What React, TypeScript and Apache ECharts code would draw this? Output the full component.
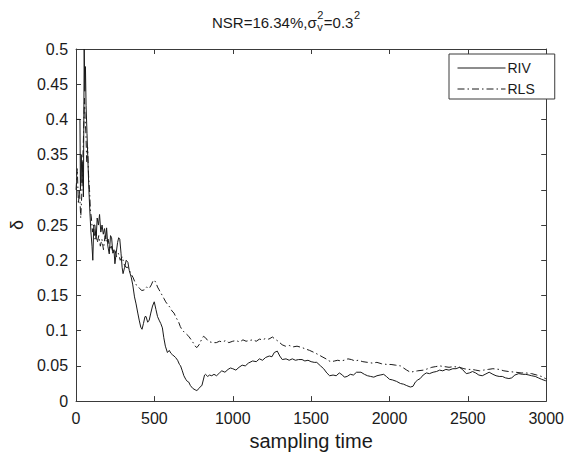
import React, { useEffect, useRef } from "react";
import * as echarts from "echarts";

const seriesNames = ["RIV", "RLS"];
const xLabel = "sampling time";
const yLabel = "δ";
const titleMain = "NSR=16.34%,σ";
const titleSup1 = "2";
const titleSub1 = "v";
const titleMid = "=0.3";
const titleSup2 = "2";

const rivTime = [0, 12, 25, 28, 33, 38, 43, 47, 52, 56, 60, 64, 70, 76, 82, 88, 95, 102, 107, 113, 120, 128, 135, 143, 150, 158, 166, 174, 182, 190, 195, 203, 212, 220, 227, 235, 242, 248, 256, 265, 272, 279, 287, 294, 300, 310, 320, 331, 340, 352, 362, 373, 383, 394, 403, 413, 421, 430, 440, 447, 457, 467, 477, 488, 499, 510, 520, 530, 541, 551, 560, 570, 583, 595, 605, 614, 625, 635, 648, 660, 667, 678, 688, 700, 710, 719, 730, 745, 760, 771, 785, 795, 803, 812, 820, 826, 840, 852, 866, 880, 897, 915, 930, 950, 970, 985, 1000, 1020, 1040, 1060, 1080, 1100, 1127, 1150, 1170, 1190, 1210, 1233, 1250, 1265, 1284, 1300, 1316, 1340, 1360, 1380, 1400, 1420, 1442, 1460, 1480, 1500, 1520, 1536, 1560, 1580, 1600, 1618, 1640, 1660, 1680, 1700, 1712, 1730, 1750, 1770, 1790, 1818, 1840, 1860, 1880, 1900, 1920, 1940, 1963, 1980, 2000, 2020, 2045, 2070, 2090, 2110, 2133, 2150, 2165, 2180, 2196, 2215, 2235, 2255, 2278, 2300, 2320, 2340, 2360, 2380, 2404, 2425, 2447, 2465, 2490, 2510, 2530, 2550, 2570, 2592, 2610, 2636, 2660, 2680, 2700, 2720, 2740, 2762, 2780, 2800, 2825, 2850, 2870, 2890, 2907, 2930, 2950, 2970, 2995, 3000];
const rivValue = [0.4, 0.4, 0.4, 0.3, 0.35, 0.31, 0.34, 0.29, 0.5, 0.44, 0.475, 0.42, 0.38, 0.34, 0.3, 0.27, 0.24, 0.22, 0.2, 0.25, 0.25, 0.23, 0.26, 0.25, 0.265, 0.24, 0.25, 0.237, 0.245, 0.23, 0.246, 0.22, 0.209, 0.235, 0.232, 0.21, 0.215, 0.195, 0.21, 0.225, 0.232, 0.23, 0.21, 0.19, 0.181, 0.19, 0.2, 0.197, 0.185, 0.176, 0.165, 0.148, 0.138, 0.125, 0.115, 0.105, 0.102, 0.11, 0.12, 0.12, 0.112, 0.115, 0.125, 0.135, 0.141, 0.13, 0.12, 0.115, 0.11, 0.104, 0.09, 0.078, 0.069, 0.072, 0.068, 0.066, 0.064, 0.062, 0.058, 0.052, 0.05, 0.043, 0.036, 0.031, 0.028, 0.027, 0.022, 0.018, 0.016, 0.015, 0.018, 0.021, 0.022, 0.03, 0.037, 0.038, 0.035, 0.037, 0.036, 0.038, 0.036, 0.04, 0.043, 0.041, 0.045, 0.047, 0.046, 0.044, 0.048, 0.051, 0.05, 0.054, 0.057, 0.056, 0.06, 0.058, 0.062, 0.064, 0.063, 0.069, 0.071, 0.064, 0.059, 0.06, 0.058, 0.06, 0.058, 0.059, 0.059, 0.057, 0.058, 0.056, 0.055, 0.055, 0.05, 0.046, 0.04, 0.036, 0.037, 0.036, 0.04, 0.037, 0.034, 0.035, 0.038, 0.037, 0.041, 0.041, 0.038, 0.036, 0.035, 0.034, 0.036, 0.037, 0.038, 0.035, 0.031, 0.03, 0.028, 0.025, 0.024, 0.022, 0.02, 0.021, 0.027, 0.03, 0.032, 0.037, 0.04, 0.039, 0.041, 0.042, 0.044, 0.043, 0.045, 0.044, 0.046, 0.046, 0.048, 0.045, 0.039, 0.04, 0.042, 0.04, 0.037, 0.036, 0.038, 0.041, 0.038, 0.036, 0.035, 0.035, 0.033, 0.032, 0.033, 0.037, 0.039, 0.038, 0.038, 0.037, 0.036, 0.035, 0.033, 0.031, 0.029, 0.029];

const rlsTime = [0, 8, 15, 22, 30, 36, 42, 48, 54, 58, 63, 68, 74, 80, 86, 92, 98, 105, 112, 120, 128, 136, 145, 155, 165, 175, 185, 195, 205, 215, 225, 236, 248, 258, 270, 282, 295, 305, 318, 330, 342, 352, 363, 374, 384, 395, 405, 420, 436, 450, 467, 480, 490, 499, 510, 520, 530, 545, 560, 572, 585, 600, 612, 625, 640, 655, 665, 677, 690, 705, 719, 735, 750, 760, 771, 785, 800, 813, 826, 840, 855, 876, 895, 915, 935, 955, 975, 1000, 1020, 1045, 1065, 1085, 1105, 1127, 1150, 1170, 1190, 1210, 1230, 1253, 1270, 1290, 1315, 1336, 1360, 1385, 1410, 1442, 1465, 1490, 1520, 1546, 1570, 1595, 1615, 1630, 1650, 1670, 1690, 1710, 1735, 1757, 1780, 1800, 1830, 1860, 1890, 1920, 1950, 1986, 2010, 2040, 2070, 2090, 2110, 2133, 2155, 2180, 2217, 2245, 2270, 2295, 2320, 2350, 2380, 2410, 2447, 2475, 2500, 2525, 2550, 2575, 2600, 2630, 2660, 2700, 2730, 2760, 2805, 2840, 2870, 2907, 2940, 2970, 2995, 3000];
const rlsValue = [0.3, 0.33, 0.28, 0.3, 0.26, 0.29, 0.33, 0.38, 0.43, 0.4, 0.38, 0.34, 0.36, 0.32, 0.3, 0.27, 0.26, 0.24, 0.25, 0.23, 0.24, 0.225, 0.235, 0.22, 0.23, 0.215, 0.235, 0.225, 0.23, 0.215, 0.22, 0.21, 0.215, 0.205, 0.21, 0.2, 0.205, 0.195, 0.19, 0.19, 0.185, 0.18, 0.176, 0.17, 0.165, 0.163, 0.16, 0.157, 0.158, 0.162, 0.16, 0.165, 0.17, 0.172, 0.168, 0.162, 0.158, 0.152, 0.146, 0.141, 0.137, 0.133, 0.128, 0.125, 0.118, 0.112, 0.106, 0.101, 0.098, 0.095, 0.092, 0.087, 0.082, 0.078, 0.076, 0.08, 0.087, 0.092, 0.09, 0.086, 0.084, 0.083, 0.083, 0.085, 0.084, 0.086, 0.083, 0.085, 0.086, 0.084, 0.087, 0.085, 0.086, 0.087, 0.085, 0.088, 0.087, 0.089, 0.088, 0.091, 0.088, 0.085, 0.08, 0.078, 0.079, 0.077, 0.078, 0.076, 0.074, 0.072, 0.069, 0.066, 0.063, 0.06, 0.057, 0.056, 0.057, 0.058, 0.057, 0.058, 0.06, 0.059, 0.057, 0.058, 0.056, 0.055, 0.054, 0.055, 0.053, 0.052, 0.052, 0.051, 0.05, 0.047, 0.044, 0.041, 0.042, 0.043, 0.044, 0.046, 0.048, 0.049, 0.05, 0.049, 0.048, 0.049, 0.048, 0.046, 0.045, 0.045, 0.044, 0.043, 0.044, 0.045, 0.046, 0.045, 0.043, 0.042, 0.041, 0.04, 0.04, 0.039, 0.037, 0.035, 0.032, 0.032];

const FONT = '"Liberation Sans", Arial, sans-serif';
const AXIS_COLOR = "#3a3a3a";
const TEXT_COLOR = "#1a1a1a";
const LINE_COLOR = "#1a1a1a";

export default function App() {
  const ref = useRef<HTMLDivElement>(null);
  useEffect(() => {
    const chart = echarts.init(ref.current!, null, { renderer: "svg" });
    const ctx = document.createElement("canvas").getContext("2d")!;
    const measure = (t: string, size: number) => {
      ctx.font = `${size}px "Liberation Sans"`;
      return ctx.measureText(t).width;
    };
    const mainSize = 15;
    const smallSize = 11;
    const wMain = measure(titleMain, mainSize);
    const wSup1 = Math.max(measure(titleSup1, smallSize), measure(titleSub1, smallSize));
    const wMid = measure(titleMid, mainSize);
    const wSup2 = measure(titleSup2, smallSize);
    const total = wMain + wSup1 + wMid + wSup2;
    const x0 = 212;
    const yMid = 22;
    void total;
    const txt = (text: string, x: number, y: number, size: number) => ({
      type: "text",
      x,
      y,
      silent: true,
      style: {
        text,
        fill: TEXT_COLOR,
        font: `${size}px ${FONT}`,
        textAlign: "left",
        textVerticalAlign: "middle",
      },
    });

    const axisCommon = {
      type: "value" as const,
      axisLine: { show: true, onZero: false, lineStyle: { color: AXIS_COLOR, width: 1 } },
      axisTick: { show: true, inside: true, length: 5, lineStyle: { color: AXIS_COLOR } },
      splitLine: { show: false },
    };

    chart.setOption({
      animation: false,
      backgroundColor: "#ffffff",
      grid: { left: 70.6, right: 19, top: 49, bottom: 50.3, containLabel: false },
      graphic: [
        txt(titleMain, x0, yMid, mainSize),
        txt(titleSup1, x0 + wMain + 0.5, yMid - 7, smallSize),
        txt(titleSub1, x0 + wMain + 0.5, yMid + 5, smallSize),
        txt(titleMid, x0 + wMain + wSup1 + 1, yMid, mainSize),
        txt(titleSup2, x0 + wMain + wSup1 + wMid + 1.5, yMid - 7, smallSize),
      ],
      legend: {
        data: seriesNames,
        orient: "vertical",
        left: 449,
        top: 54,
        itemWidth: 48,
        itemHeight: 14,
        itemGap: 7,
        padding: [7, 20, 3, 8],
        borderColor: AXIS_COLOR,
        borderWidth: 1,
        backgroundColor: "#ffffff",
        itemStyle: { opacity: 0 },
        lineStyle: { width: 1 },
        textStyle: { fontFamily: FONT, fontSize: 14, color: TEXT_COLOR, padding: [0, 0, 0, -3] },
      },
      xAxis: [
        {
          ...axisCommon,
          min: 0,
          max: 3000,
          interval: 500,
          position: "bottom",
          axisLabel: {
            color: TEXT_COLOR,
            fontFamily: FONT,
            fontSize: 16,
            margin: 9,
            formatter: (v: number) => String(v),
          },
          name: xLabel,
          nameLocation: "middle",
          nameGap: 26,
          nameTextStyle: { fontFamily: FONT, fontSize: 20, color: TEXT_COLOR },
        },
        {
          ...axisCommon,
          min: 0,
          max: 3000,
          interval: 500,
          position: "top",
          axisLabel: { show: false },
        },
      ],
      yAxis: [
        {
          ...axisCommon,
          min: 0,
          max: 0.5,
          interval: 0.05,
          position: "left",
          axisLabel: {
            color: TEXT_COLOR,
            fontFamily: FONT,
            fontSize: 16,
            margin: 8,
            formatter: (v: number) => String(parseFloat(v.toFixed(2))),
          },
          name: yLabel,
          nameLocation: "middle",
          nameRotate: 90,
          nameGap: 47,
          nameTextStyle: { fontFamily: FONT, fontSize: 18, color: TEXT_COLOR },
        },
        {
          ...axisCommon,
          min: 0,
          max: 0.5,
          interval: 0.05,
          position: "right",
          axisLabel: { show: false },
        },
      ],
      series: [
        {
          name: seriesNames[0],
          type: "line",
          xAxisIndex: 0,
          yAxisIndex: 0,
          symbol: "none",
          showSymbol: false,
          data: rivTime.map((t, i) => [t, rivValue[i]]),
          lineStyle: { color: LINE_COLOR, width: 1, type: "solid" },
          itemStyle: { color: LINE_COLOR },
        },
        {
          name: seriesNames[1],
          type: "line",
          xAxisIndex: 0,
          yAxisIndex: 0,
          symbol: "none",
          showSymbol: false,
          data: rlsTime.map((t, i) => [t, rlsValue[i]]),
          lineStyle: { color: LINE_COLOR, width: 1, type: [7, 3, 1.5, 3] },
          itemStyle: { color: LINE_COLOR },
        },
      ],
    });
    return () => chart.dispose();
  }, []);
  return (
    <div
      ref={ref}
      style={{ position: "fixed", left: 0, top: 0, width: 567, height: 456, background: "#fff" }}
    />
  );
}
